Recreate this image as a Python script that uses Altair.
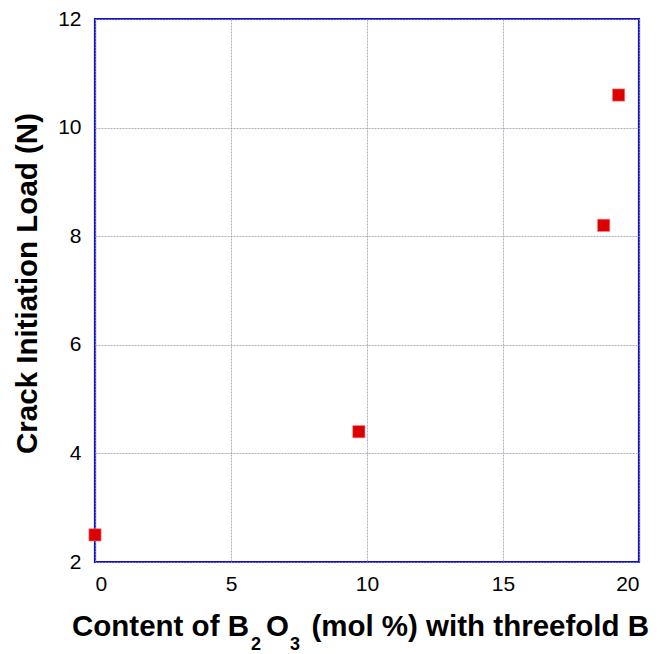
import altair as alt
import pandas as pd

# B2O3 content with threefold-coordinated boron vs. crack initiation load
b2o3_mol = [0.0, 9.7, 18.7, 19.25]
crack_load = [2.5, 4.4, 8.2, 10.6]

df = pd.DataFrame({"b2o3": b2o3_mol, "load": crack_load})

FONT = "Liberation Sans"
TITLE_SIZE = 29.5
SUB_SIZE = 18

points = (
    alt.Chart(df)
    .mark_square(size=150, color="#dd0000", opacity=1, stroke="#ff8080", strokeWidth=0.6)
    .encode(
        x=alt.X(
            "b2o3:Q",
            scale=alt.Scale(domain=[0, 20], nice=False),
            axis=alt.Axis(
                title=None,
                values=[0, 5, 10, 15, 20],
                tickSize=0,
                labelPadding=11,
                domain=False,
            ),
        ),
        y=alt.Y(
            "load:Q",
            scale=alt.Scale(domain=[2, 12], nice=False),
            axis=alt.Axis(
                title="Crack Initiation Load (N)",
                values=[2, 4, 6, 8, 10, 12],
                tickSize=0,
                labelPadding=14,
                domain=False,
                titleX=-59,
                titleY=264,
                titleAngle=270,
                titleAlign="center",
                titleBaseline="alphabetic",
            ),
        ),
    )
)

# x-axis title with subscripted B2O3, built from text pieces
one_row = alt.Data(values=[{}])


def piece(text, x, size, dy, align="left"):
    return alt.Chart(one_row).mark_text(
        text=text,
        font=FONT,
        fontSize=size,
        fontWeight="bold",
        color="#000000",
        align=align,
        baseline="alphabetic",
    ).encode(x=alt.value(x), y=alt.value(dy))


BASE_Y = 617
SUB_Y = 631
x_title = (
    piece("Content of B", -23, TITLE_SIZE, BASE_Y)
    + piece("2", 156, SUB_SIZE, SUB_Y)
    + piece("O", 171, TITLE_SIZE, BASE_Y)
    + piece("3", 195, SUB_SIZE, SUB_Y)
    + piece("(mol %) with threefold B", 554, TITLE_SIZE, BASE_Y, align="right")
)

chart = (
    alt.layer(points, x_title)
    .properties(
        width=544,
        height=543,
        autosize=alt.AutoSizeParams(type="none"),
        padding={"left": 95, "top": 19, "right": 30, "bottom": 92},
    )
    .configure_axis(
        labelFont=FONT,
        labelFontSize=21,
        labelColor="#000000",
        titleFont=FONT,
        titleFontSize=TITLE_SIZE,
        titleFontWeight="bold",
        titleColor="#000000",
        gridColor="#9a9ab0",
        gridWidth=0.8,
        gridDash=[2, 1],
        gridOpacity=1,
    )
    .configure_view(stroke="#1010c8", strokeWidth=2.2)
)

chart.save("out.html", embed_options={"renderer": "svg", "actions": False})
